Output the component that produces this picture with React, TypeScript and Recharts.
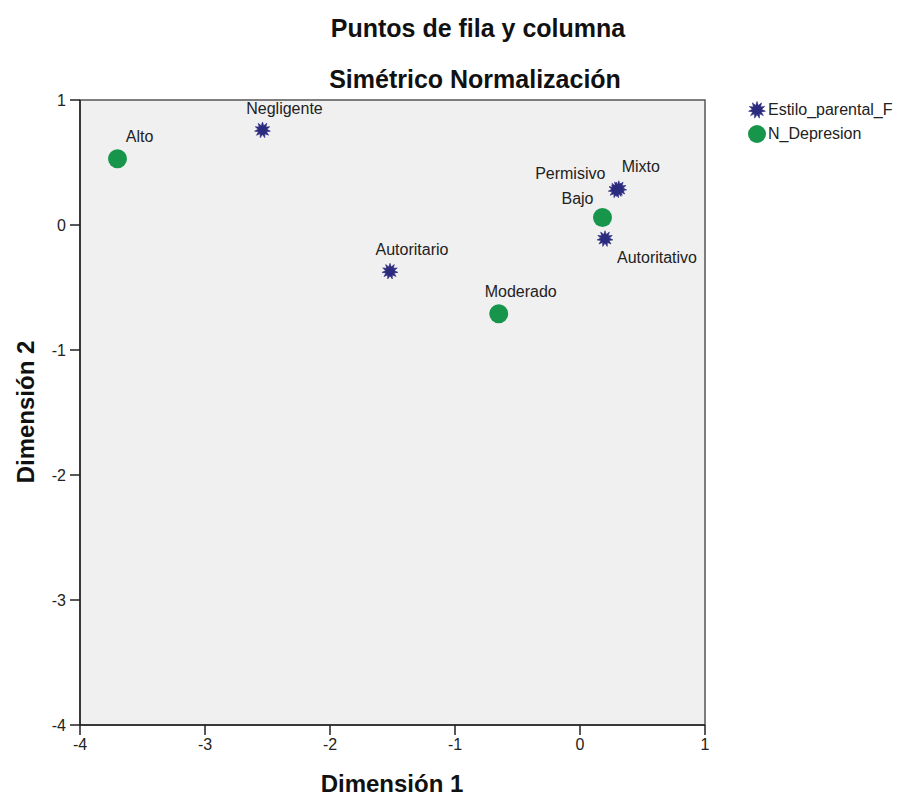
import React from 'react';
import {
  ScatterChart,
  Scatter,
  XAxis,
  YAxis,
  CartesianGrid,
  ReferenceArea,
  Legend,
  LabelList,
} from 'recharts';

const titleLines = ['Puntos de fila y columna', 'Simétrico Normalización'];
const xAxisTitle = 'Dimensión 1';
const yAxisTitle = 'Dimensión 2';
const xTicks = [-4, -3, -2, -1, 0, 1];
const yTicks = [-4, -3, -2, -1, 0, 1];

const parentalName = 'Estilo_parental_F';
const parentalPoints = [
  { name: 'Negligente', x: -2.54, y: 0.76 },
  { name: 'Autoritario', x: -1.52, y: -0.37 },
  { name: 'Permisivo', x: 0.29, y: 0.28 },
  { name: 'Mixto', x: 0.31, y: 0.29 },
  { name: 'Autoritativo', x: 0.2, y: -0.11 },
];

const depresionName = 'N_Depresion';
const depresionPoints = [
  { name: 'Alto', x: -3.7, y: 0.53 },
  { name: 'Moderado', x: -0.65, y: -0.71 },
  { name: 'Bajo', x: 0.18, y: 0.06 },
];

const NAVY = '#2a2a7e';
const GREEN = '#17964b';
const FONT = '"Liberation Sans", Arial, sans-serif';

// label placement (pixel offsets from the marker), as SPSS placed them
const labelOffsets: Record<string, [number, number]> = {
  Permisivo: [-46, -17],
  Bajo: [-25, -19],
  Autoritativo: [52, 19],
};
const defaultOffset: [number, number] = [22, -22];

function starPoints(cx: number, cy: number, outer: number, inner: number, spikes: number) {
  const pts: string[] = [];
  for (let i = 0; i < spikes * 2; i++) {
    const r = i % 2 === 0 ? outer : inner;
    const a = (Math.PI * i) / spikes - Math.PI / 2;
    pts.push(`${cx + r * Math.cos(a)},${cy + r * Math.sin(a)}`);
  }
  return pts.join(' ');
}

const StarShape = (props: any) => {
  const { cx, cy } = props;
  if (cx == null || cy == null) return null;
  return <polygon points={starPoints(cx, cy, 8, 4.4, 11)} fill={NAVY} stroke={NAVY} strokeWidth={0.6} />;
};

const CircleShape = (props: any) => {
  const { cx, cy } = props;
  if (cx == null || cy == null) return null;
  return <circle cx={cx} cy={cy} r={9.5} fill={GREEN} />;
};

const PointLabel = (props: any) => {
  const { x, y, width, height, value } = props;
  if (x == null || y == null) return null;
  const cx = x + (width || 0) / 2;
  const cy = y + (height || 0) / 2;
  const [dx, dy] = labelOffsets[value] || defaultOffset;
  return (
    <text
      x={cx + dx}
      y={cy + dy}
      textAnchor="middle"
      dominantBaseline="central"
      fontFamily={FONT}
      fontSize={16}
      fill="#222"
    >
      {value}
    </text>
  );
};

const LegendContent = (props: any) => {
  const payload = props.payload || [];
  return (
    <div style={{ fontFamily: FONT, fontSize: 16, color: '#222' }}>
      {payload.map((entry: any, i: number) => (
        <div key={i} style={{ display: 'flex', alignItems: 'center', height: 24 }}>
          <svg width={20} height={22} style={{ display: 'block' }}>
            {entry.value === parentalName ? (
              <polygon points={starPoints(10, 11, 8.5, 4.6, 11)} fill={NAVY} stroke={NAVY} strokeWidth={0.6} />
            ) : (
              <circle cx={10} cy={11} r={9} fill={GREEN} />
            )}
          </svg>
          <span style={{ marginLeft: 1, whiteSpace: 'nowrap' }}>{entry.value}</span>
        </div>
      ))}
    </div>
  );
};

export default function App() {
  return (
    <div style={{ position: 'absolute', left: 0, top: 0, width: 905, height: 798, background: '#fff' }}>
      <ScatterChart width={905} height={798} margin={{ top: 100, right: 200, bottom: 33, left: 30 }}>
        <CartesianGrid horizontal={false} vertical={false} fill="#f0f0f0" />
        <ReferenceArea x1={-4} x2={1} y1={-4} y2={1} fill="none" stroke="#555" strokeWidth={1.5} />
        <XAxis
          type="number"
          dataKey="x"
          domain={[-4, 1]}
          ticks={xTicks}
          height={40}
          tickSize={10}
          tickMargin={4}
          axisLine={{ stroke: '#222', strokeWidth: 1.5 }}
          tickLine={{ stroke: '#222', strokeWidth: 1.5 }}
          tick={{ fill: '#222', fontSize: 16, fontFamily: FONT }}
          allowDataOverflow
        />
        <YAxis
          type="number"
          dataKey="y"
          domain={[-4, 1]}
          ticks={yTicks}
          width={50}
          tickSize={10}
          tickMargin={4}
          axisLine={{ stroke: '#222', strokeWidth: 1.5 }}
          tickLine={{ stroke: '#222', strokeWidth: 1.5 }}
          tick={{ fill: '#222', fontSize: 16, fontFamily: FONT }}
          allowDataOverflow
        />
        <Legend
          layout="vertical"
          align="center"
          verticalAlign="middle"
          content={<LegendContent />}
          wrapperStyle={{ position: 'absolute', left: 747, top: 98, width: 160 }}
        />
        <Scatter name={parentalName} data={parentalPoints} shape={<StarShape />} isAnimationActive={false}>
          <LabelList dataKey="name" content={<PointLabel />} />
        </Scatter>
        <Scatter name={depresionName} data={depresionPoints} shape={<CircleShape />} isAnimationActive={false}>
          <LabelList dataKey="name" content={<PointLabel />} />
        </Scatter>
      </ScatterChart>
      <svg
        width={905}
        height={798}
        style={{ position: 'absolute', left: 0, top: 0, pointerEvents: 'none' }}
      >
        <text x={478} y={37} textAnchor="middle" fontFamily={FONT} fontWeight="bold" fontSize={25} fill="#111">
          {titleLines[0]}
        </text>
        <text x={475} y={88} textAnchor="middle" fontFamily={FONT} fontWeight="bold" fontSize={25} fill="#111">
          {titleLines[1]}
        </text>
        <text x={392} y={792} textAnchor="middle" fontFamily={FONT} fontWeight="bold" fontSize={24} fill="#111">
          {xAxisTitle}
        </text>
        <text
          x={34}
          y={412}
          textAnchor="middle"
          fontFamily={FONT}
          fontWeight="bold"
          fontSize={24}
          fill="#111"
          transform="rotate(-90, 34, 412)"
        >
          {yAxisTitle}
        </text>
      </svg>
    </div>
  );
}
